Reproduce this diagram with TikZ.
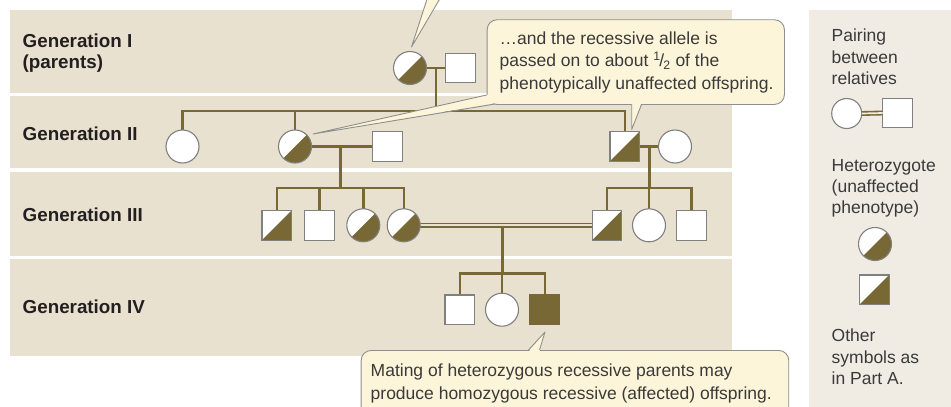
\documentclass[tikz,border=0pt]{standalone}
\usepackage{fontspec}
\setmainfont{Liberation Sans}
\pgfdeclarelayer{back}
\pgfdeclarelayer{lines}
\pgfsetlayers{back,lines,main}
\definecolor{bandc}{HTML}{E8E1D0}
\definecolor{legendc}{HTML}{F1ECE3}
\definecolor{olivec}{HTML}{776835}
\definecolor{symline}{HTML}{808080}
\definecolor{notefill}{HTML}{FDF5DA}
\definecolor{noteline}{HTML}{8F8F8F}
\definecolor{labelc}{HTML}{231F20}
\definecolor{textc}{HTML}{3A3A3A}

\begin{document}
\begin{tikzpicture}[x=1pt,y=-1pt,
  person/.style={draw=symline,line width=1.1pt,fill=white,inner sep=0pt,outer sep=0pt},
  female/.style={person,circle,minimum size=33pt},
  male/.style={person,rectangle,minimum size=29.5pt},
  het/.style={path picture={\fill[olivec] (path picture bounding box.south west)
      -- (path picture bounding box.north east) -- (path picture bounding box.south east) -- cycle;}},
  affected/.style={fill=olivec,draw=olivec},
  link/.style={draw=olivec,line width=2.4pt},
  kin/.style={draw=olivec,line width=1.6pt,double=bandc,double distance=1.7pt},
  genlabel/.style={anchor=base west,inner sep=0pt,font=\fontsize{18.8}{22}\selectfont\bfseries,text=labelc},
  plain/.style={anchor=base west,inner sep=0pt,font=\fontsize{17.5}{21}\selectfont,text=textc},
  note/.style={fill=notefill,draw=noteline,line width=0.9pt,rounded corners=10pt,anchor=north west,inner sep=0pt},
  tail/.style={draw=noteline,line width=0.9pt,line join=round},
]
\useasboundingbox (0,0) rectangle (951,407);
\clip (0,0) rectangle (951,407);

% generation bands and legend panel
\begin{pgfonlayer}{back}
  \fill[bandc] (10,10) rectangle (732,93.3);
  \fill[bandc] (10,96.3) rectangle (732,168.3);
  \fill[bandc] (10,171.7) rectangle (732,255.7);
  \fill[bandc] (10,259) rectangle (732,356);
  \fill[legendc] (808.5,10) rectangle (951,407);
\end{pgfonlayer}

% generation labels
\node[genlabel] (l1a) at (22.5,47.5) {Generation I};
\node[genlabel] (l1b) at (22.5,68.5) {(parents)};
\node[genlabel] (l2) at (22.5,140.5) {Generation II};
\node[genlabel] (l3) at (22.5,221) {Generation III};
\node[genlabel] (l4) at (22.5,313) {Generation IV};

% generation I
\node[female,het] (g1f) at (410,68) {};
\node[male] (g1m) at (460.5,68) {};

% generation II
\node[female] (g2a) at (182.5,146.5) {};
\node[female,het] (g2b) at (295,146.5) {};
\node[male] (g2c) at (387.5,146.5) {};
\node[male,het] (g2d) at (624.7,146.5) {};
\node[female] (g2e) at (675,146.5) {};

% generation III
\node[male,het] (g3a) at (276.7,225.3) {};
\node[male] (g3b) at (319.3,225.3) {};
\node[female,het] (g3c) at (363.3,225.3) {};
\node[female,het] (g3d) at (403.7,225.3) {};
\node[male,het] (g3e) at (607,225.3) {};
\node[female] (g3f) at (649,225.3) {};
\node[male] (g3g) at (691.3,225.3) {};

% generation IV
\node[male] (g4a) at (459.7,309.7) {};
\node[female] (g4b) at (502,309.7) {};
\node[male,affected] (g4c) at (544.7,309.7) {};

% junction points on mating lines and sibship bars
\coordinate (j1) at (435.7,68);   \coordinate (b1) at (435.7,111);
\coordinate (j2) at (340.3,146.5); \coordinate (b2) at (340.3,188);
\coordinate (j3) at (649.3,146.5); \coordinate (b3) at (649.3,188);
\coordinate (j4) at (502.3,226);  \coordinate (b4) at (502.3,273.3);

\begin{pgfonlayer}{lines}
  \draw[link] (g1f.east) -- (g1m.west);
  \draw[link] (j1) -- (b1);
  \draw[link] (g2a.north) |- (b1) -| (g2d.north);
  \draw[link] (g2b.north) -- (g2b.north |- b1);

  \draw[link] (g2b.east) -- (g2c.west);
  \draw[link] (j2) -- (b2);
  \draw[link] (g3a.north) |- (b2) -| (g3d.north);
  \draw[link] (g3b.north) -- (g3b.north |- b2);
  \draw[link] (g3c.north) -- (g3c.north |- b2);

  \draw[link] (g2d.east) -- (g2e.west);
  \draw[link] (j3) -- (b3);
  \draw[link] (g3e.north) |- (b3) -| (g3g.north);
  \draw[link] (g3f.north) -- (g3f.north |- b3);

  \draw[kin] (g3d.east) -- (g3e.west);
  \draw[link] (j4) -- (b4);
  \draw[link] (g4a.north) |- (b4) -| (g4c.north);
  \draw[link] (g4b.north) -- (g4b.north |- b4);
\end{pgfonlayer}

% legend
\node[plain] (t1) at (831.5,41.7) {Pairing};
\node[plain] (t2) at (831.5,63.3) {between};
\node[plain] (t3) at (831.5,84.5) {relatives};
\node[female,minimum size=30pt] (lf) at (846.7,113.5) {};
\node[male,minimum size=29.5pt] (lm) at (897.3,113) {};
\draw[kin,double=legendc] (lf.east) -- (lm.west);
\node[plain] (t4) at (831.5,171.7) {Heterozygote};
\node[plain] (t5) at (831.5,192.7) {(unaffected};
\node[plain] (t6) at (831.5,213.5) {phenotype)};
\node[female,het] (lhf) at (875,244) {};
\node[male,het] (lhm) at (874.3,289.7) {};
\node[plain] (t7) at (831.5,341.7) {Other};
\node[plain] (t8) at (831.5,363.3) {symbols as};
\node[plain] (t9) at (831.5,384.5) {in Part A.};

% pointer coming down from a note above
\coordinate (ptop) at (411.5,47);
\fill[notefill] (ptop) -- (430,-10) -- (445,-10) -- cycle;
\draw[tail] (430,-10) -- (ptop) -- (445,-10);

% note on the recessive allele
\node[note,minimum width=297.3pt,minimum height=84.7pt] (n1) at (486.7,19.3) {};
\coordinate (p2b) at (313,134);
\fill[notefill] (487.5,94.5) -- (p2b) -- (495,103.2) -- (498,96) -- cycle;
\draw[tail] (486.7,95) -- (p2b) -- (495,104);
\coordinate (p2d) at (631.7,129.5);
\fill[notefill] (631.7,102) -- (p2d) -- (641.7,102) -- cycle;
\draw[tail] (631.7,104) -- (p2d) -- (641.7,104);
\node[plain] (n1a) at (499.5,44.5) {…and the recessive allele is};
\node[plain] (n1b) at (499.5,66.7) {passed on to about \textsuperscript{1}\kern-0.08em/\kern-0.05em\textsubscript{2} of the};
\node[plain] (n1c) at (499.5,89) {phenotypically unaffected offspring.};

% note on the affected offspring
\node[note,minimum width=427.6pt,minimum height=80pt] (n2) at (360.7,350) {};
\coordinate (p4c) at (545,332);
\fill[notefill] (528.5,352) -- (p4c) -- (539.5,352) -- cycle;
\draw[tail] (528.5,350) -- (p4c) -- (539.5,350);
\node[plain] (n2a) at (370.5,376) {Mating of heterozygous recessive parents may};
\node[plain] (n2b) at (370.5,399) {produce homozygous recessive (affected) offspring.};
\end{tikzpicture}
\end{document}
